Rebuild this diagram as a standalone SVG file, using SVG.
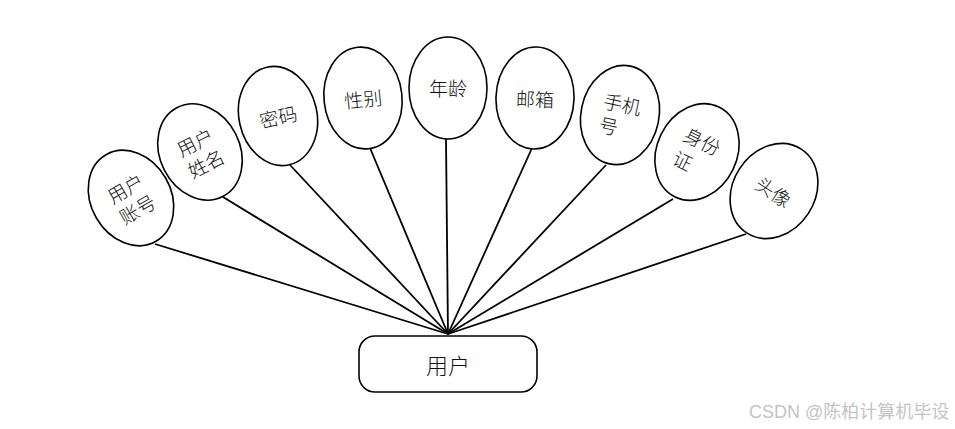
<svg xmlns="http://www.w3.org/2000/svg" width="955" height="429" viewBox="0 0 955 429">
<style>
.att ellipse{fill:#fff;stroke:#000;stroke-width:1.6}
.att text,.ent text{font-family:"Noto Sans CJK SC","Noto Sans",sans-serif;font-size:19px;font-weight:300;fill:#111;text-anchor:middle;dominant-baseline:central}
.ent rect{fill:#fff;stroke:#000;stroke-width:1.6}
.ent text{font-size:22px}
#edges line{stroke:#000;stroke-width:1.8}
.wm{font-family:"Liberation Sans","Noto Sans CJK SC",sans-serif;font-size:18px;fill:#c4c4c4}
</style>
<rect width="955" height="429" fill="#fff"/>
<g id="edges">
<line x1="155" y1="244" x2="448" y2="334"/>
<line x1="223" y1="197" x2="448" y2="334"/>
<line x1="290" y1="165" x2="448" y2="334"/>
<line x1="370" y1="148" x2="448" y2="334"/>
<line x1="446" y1="139" x2="448" y2="334"/>
<line x1="532" y1="148" x2="448" y2="334"/>
<line x1="606" y1="165" x2="448" y2="334"/>
<line x1="673" y1="199" x2="448" y2="334"/>
<line x1="746" y1="234" x2="448" y2="334"/>
</g>
<g id="a1" class="att" transform="translate(131,198) rotate(-30)">
<ellipse rx="40" ry="50"/>
<text y="-12">用户</text><text y="12">账号</text>
</g>
<g id="a2" class="att" transform="translate(200,152) rotate(-27)">
<ellipse rx="40" ry="50"/>
<text y="-12">用户</text><text y="12">姓名</text>
</g>
<g id="a3" class="att" transform="translate(278,116) rotate(-13)">
<ellipse rx="39" ry="50"/>
<text>密码</text>
</g>
<g id="a4" class="att" transform="translate(363,98) rotate(-6)">
<ellipse rx="39" ry="51"/>
<text>性别</text>
</g>
<g id="a5" class="att" transform="translate(448,88)">
<ellipse rx="39" ry="51"/>
<text y="-1">年龄</text>
</g>
<g id="a6" class="att" transform="translate(535,98) rotate(2)">
<ellipse rx="39" ry="51"/>
<text>邮箱</text>
</g>
<g id="a7" class="att" transform="translate(620,115) rotate(12)">
<ellipse rx="39" ry="50"/>
<text y="-12">手机</text><text x="-9" y="12">号</text>
</g>
<g id="a8" class="att" transform="translate(697,152) rotate(26)">
<ellipse rx="40" ry="50"/>
<text y="-13">身份</text><text x="-9" y="13">证</text>
</g>
<g id="a9" class="att" transform="translate(774,191) rotate(33)">
<ellipse rx="41" ry="50"/>
<text>头像</text>
</g>
<g id="user" class="ent">
<rect x="359" y="336" width="178" height="56" rx="16"/>
<text x="448" y="364">用户</text>
</g>
<text class="wm" x="749" y="418">CSDN @陈柏计算机毕设</text>
</svg>
